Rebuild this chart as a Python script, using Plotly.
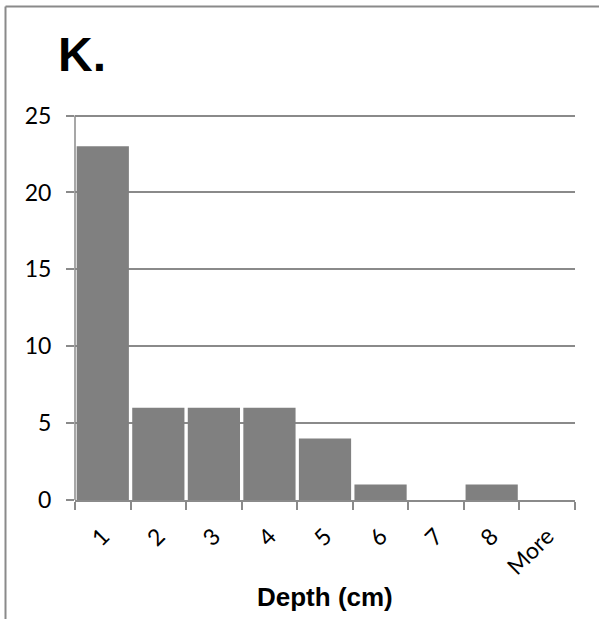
import plotly.graph_objects as go

categories = ["1", "2", "3", "4", "5", "6", "7", "8", "More"]
counts = [23, 6, 6, 6, 4, 1, 0, 1, 0]
y_ticks = [0, 5, 10, 15, 20, 25]
panel_label = "K."
x_title = "Depth (cm)"

W, H = 599, 619
L, R, T, B = 75, 24, 111, 119
pw, ph = W - L - R, H - T - B

def px_x(x):
    return (x - L) / pw

def px_y(y):
    return (H - B - y) / ph

grid = "#8a8a8a"
tick_font = dict(family="Lato, Calibri, sans-serif", size=23, color="#000000")

fig = go.Figure(go.Bar(x=categories, y=counts, marker=dict(color="#808080", line=dict(width=0))))

fig.update_layout(
    width=W, height=H,
    margin=dict(l=L, r=R, t=T, b=B),
    paper_bgcolor="white", plot_bgcolor="white",
    bargap=0.06,
    showlegend=False,
    xaxis=dict(
        type="category", tickson="boundaries", ticks="outside", ticklen=8,
        tickcolor=grid, tickwidth=1.5, showline=True, linecolor=grid, linewidth=1.5,
        showgrid=False, tickangle=-45, tickfont=tick_font, ticklabelstandoff=12,
    ),
    yaxis=dict(
        range=[0, 25.3], tickvals=y_ticks, ticks="outside", ticklen=8, tickcolor=grid,
        tickwidth=1.5, showline=False,
        showgrid=True, gridcolor=grid, gridwidth=1.5, zeroline=False,
        tickfont=tick_font, ticklabelstandoff=10,
    ),
    shapes=[
        # y axis line from 0 to 25 only
        dict(type="line", xref="paper", yref="y", x0=0, x1=0, y0=0, y1=y_ticks[-1],
             line=dict(color=grid, width=1.5)),
        dict(type="line", xref="paper", yref="paper", x0=px_x(5.5), x1=px_x(5.5),
             y0=px_y(6.5), y1=px_y(H + 2), line=dict(color=grid, width=2)),
        dict(type="line", xref="paper", yref="paper", x0=px_x(5.5), x1=px_x(W + 2),
             y0=px_y(6.5), y1=px_y(6.5), line=dict(color=grid, width=2)),
    ],
    annotations=[
        dict(text=panel_label, xref="paper", yref="paper", x=px_x(56), y=px_y(55),
             xanchor="left", yanchor="middle", showarrow=False,
             font=dict(family="Liberation Sans, Arial, sans-serif", size=48, color="black", weight="bold")),
        dict(text=x_title, xref="paper", yref="paper", x=0.5, y=px_y(597),
             xanchor="center", yanchor="middle", showarrow=False,
             font=dict(family="Liberation Sans, Arial, sans-serif", size=26, color="black", weight="bold")),
    ],
)

fig.write_html("out.html")
